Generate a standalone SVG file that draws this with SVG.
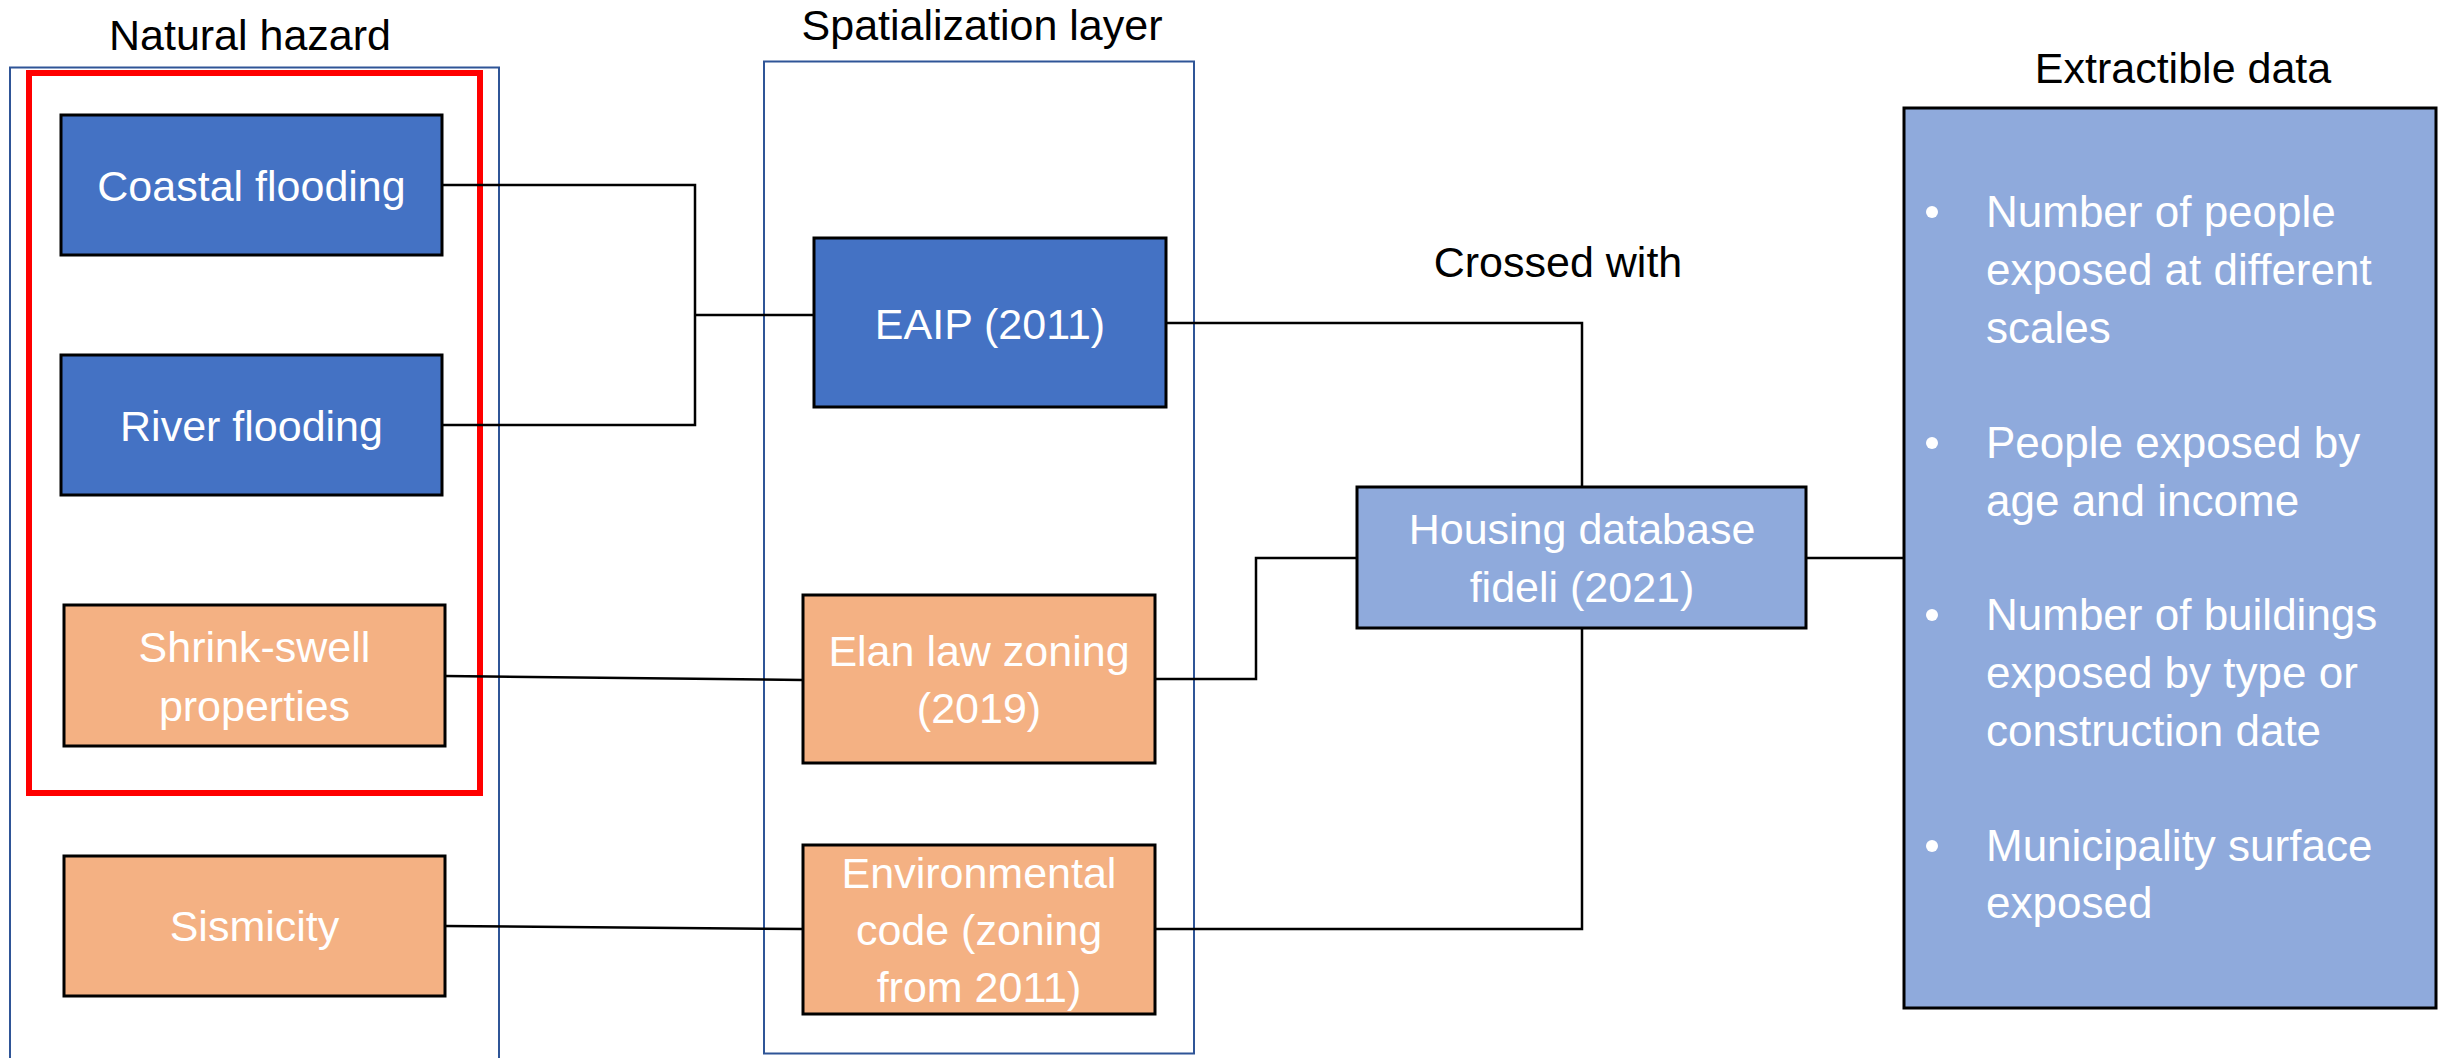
<svg xmlns="http://www.w3.org/2000/svg" width="2448" height="1058" viewBox="0 0 2448 1058">
<style>
.title{font-family:"Liberation Sans",Arial,sans-serif;font-size:43px;fill:#000;text-anchor:middle}
.nt{font-family:"Liberation Sans",Arial,sans-serif;font-size:43px;fill:#fff;text-anchor:middle}
.bt{font-family:"Liberation Sans",Arial,sans-serif;font-size:44px;fill:#fff}
.grp{fill:none;stroke:#2F5597;stroke-width:2}
.dark{fill:#4472C4;stroke:#000;stroke-width:3}
.orange{fill:#F4B183;stroke:#000;stroke-width:3}
.light{fill:#8FAADC;stroke:#000;stroke-width:3}
.conn{fill:none;stroke:#000;stroke-width:2.5}
</style>
<rect width="2448" height="1058" fill="#fff"/>

<g id="group-natural-hazard">
<path class="grp" d="M10,1060 V67.5 H499 V1060"/>
<text class="title" x="250" y="50">Natural hazard</text>
</g>
<g id="group-spatialization">
<rect class="grp" x="764" y="61.5" width="430" height="992"/>
<text class="title" x="982" y="40">Spatialization layer</text>
</g>
<g id="highlight">
<rect x="29" y="73" width="451" height="720" fill="none" stroke="#FF0000" stroke-width="6"/>
</g>
<g id="label-crossed">
<text class="title" x="1558" y="277">Crossed with</text>
</g>
<g id="label-extractible">
<text class="title" x="2183" y="83">Extractible data</text>
</g>

<g id="connectors">
<polyline class="conn" points="442,185 695,185 695,425 442,425"/>
<line class="conn" x1="695" y1="315" x2="814" y2="315"/>
<line class="conn" x1="445" y1="676" x2="803" y2="680"/>
<line class="conn" x1="445" y1="926" x2="803" y2="929"/>
<polyline class="conn" points="1166,323 1582,323 1582,487"/>
<polyline class="conn" points="1155,679 1256,679 1256,558 1357,558"/>
<polyline class="conn" points="1155,929 1582,929 1582,628"/>
<line class="conn" x1="1806" y1="558" x2="1904" y2="558"/>
</g>

<g id="node-coastal">
<rect class="dark" x="61" y="115" width="381" height="140"/>
<text class="nt" x="251.5" y="201">Coastal flooding</text>
</g>
<g id="node-river">
<rect class="dark" x="61" y="355" width="381" height="140"/>
<text class="nt" x="251.5" y="441">River flooding</text>
</g>
<g id="node-shrink">
<rect class="orange" x="64" y="605" width="381" height="141"/>
<text class="nt" x="254.5" y="662">Shrink-swell</text>
<text class="nt" x="254.5" y="721">properties</text>
</g>
<g id="node-sismicity">
<rect class="orange" x="64" y="856" width="381" height="140"/>
<text class="nt" x="254.5" y="941">Sismicity</text>
</g>
<g id="node-eaip">
<rect class="dark" x="814" y="238" width="352" height="169"/>
<text class="nt" x="990" y="339">EAIP (2011)</text>
</g>
<g id="node-elan">
<rect class="orange" x="803" y="595" width="352" height="168"/>
<text class="nt" x="979" y="666">Elan law zoning</text>
<text class="nt" x="979" y="723">(2019)</text>
</g>
<g id="node-environmental">
<rect class="orange" x="803" y="845" width="352" height="169"/>
<text class="nt" x="979" y="888">Environmental</text>
<text class="nt" x="979" y="945">code (zoning</text>
<text class="nt" x="979" y="1002">from 2011)</text>
</g>
<g id="node-housing">
<rect class="light" x="1357" y="487" width="449" height="141"/>
<text class="nt" x="1582" y="544">Housing database</text>
<text class="nt" x="1582" y="602">fideli (2021)</text>
</g>
<g id="node-extractible">
<rect class="light" x="1904" y="108" width="532" height="900"/>
<circle cx="1932" cy="212" r="6" fill="#fff"/>
<text class="bt" x="1986" y="227">Number of people</text>
<text class="bt" x="1986" y="285">exposed at different</text>
<text class="bt" x="1986" y="343">scales</text>
<circle cx="1932" cy="443" r="6" fill="#fff"/>
<text class="bt" x="1986" y="458">People exposed by</text>
<text class="bt" x="1986" y="516">age and income</text>
<circle cx="1932" cy="615" r="6" fill="#fff"/>
<text class="bt" x="1986" y="630">Number of buildings</text>
<text class="bt" x="1986" y="688">exposed by type or</text>
<text class="bt" x="1986" y="746">construction date</text>
<circle cx="1932" cy="846" r="6" fill="#fff"/>
<text class="bt" x="1986" y="861">Municipality surface</text>
<text class="bt" x="1986" y="918">exposed</text>
</g>
</svg>
